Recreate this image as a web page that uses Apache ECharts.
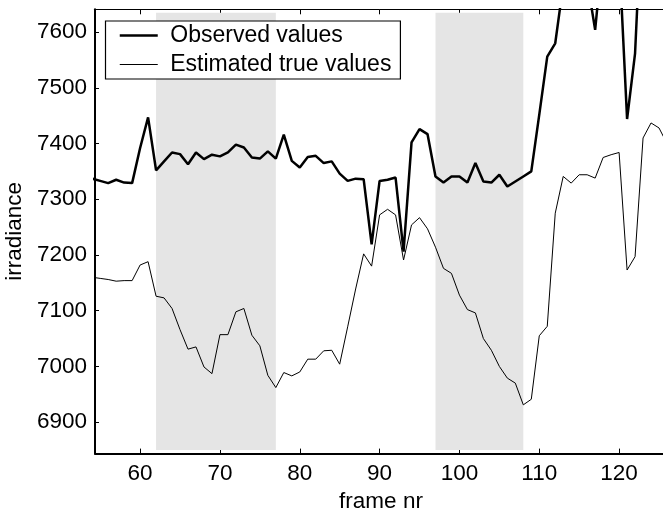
<!DOCTYPE html>
<html>
<head>
<meta charset="utf-8">
<style>
  html, body { margin: 0; padding: 0; background: #ffffff; }
  #chart { width: 663px; height: 510px; }
</style>
<script src="https://cdn.jsdelivr.net/npm/echarts@6/dist/echarts.min.js"></script>
</head>
<body>
<div id="chart"></div>
<script>
// Frame numbers (x axis)
const frames = [
  54, 55, 56, 57, 58, 59, 60, 61, 62, 63, 64, 65, 66, 67, 68, 69, 70, 71, 72, 73,
  74, 75, 76, 77, 78, 79, 80, 81, 82, 83, 84, 85, 86, 87, 88, 89, 90, 91, 92, 93,
  94, 95, 96, 97, 98, 99, 100, 101, 102, 103, 104, 105, 106, 107, 108, 109, 110,
  111, 112, 113, 114, 115, 116, 117, 118, 119, 120, 121, 122, 123, 124, 125, 126
];

// Measured irradiance per frame
const observedValues = [
  7337, 7333, 7329, 7335, 7330, 7329, 7392, 7447, 7352, 7368, 7384, 7381, 7363, 7384, 7372, 7380, 7377, 7384, 7398, 7393,
  7375, 7373, 7386, 7373, 7416, 7369, 7357, 7376, 7378, 7365, 7368, 7346, 7333, 7337, 7336, 7219, 7333, 7335, 7339, 7206,
  7402, 7426, 7417, 7341, 7330, 7341, 7341, 7330, 7365, 7332, 7330, 7344, 7323, 7332, 7341, 7350, 7452,
  7556, 7580, 7685, 7720, 7740, 7693, 7604, 7752, 7730, 7740, 7444, 7562, 7870, 7850, 7820, 7800
];

// Estimated true irradiance per frame
const estimatedValues = [
  7160, 7158, 7156, 7153, 7154, 7154, 7182, 7188, 7126, 7123, 7104, 7066, 7031, 7035, 6999, 6987, 7057, 7057, 7098, 7104,
  7056, 7037, 6984, 6962, 6989, 6983, 6990, 7013, 7013, 7028, 7029, 7004, 7071, 7139, 7202, 7180, 7272, 7282, 7272, 7191,
  7254, 7267, 7247, 7214, 7176, 7167, 7128, 7102, 7096, 7050, 7029, 7000, 6979, 6970, 6931, 6941, 7055,
  7072, 7275, 7341, 7329, 7344, 7344, 7338, 7375, 7380, 7384, 7173, 7197, 7410, 7437, 7428, 7400
];

// Shaded frame intervals
const shadeRanges = [[62, 77], [97, 108]];
const shadeBottom = 6850;
const shadeTop = 7635;

// Axis ticks
const xTicks = [60, 70, 80, 90, 100, 110, 120];
const yTicks = [6900, 7000, 7100, 7200, 7300, 7400, 7500, 7600];

const xMin = 54.35, xMax = 126;
const yMin = 6843.5, yMax = 7641;

const seriesNames = ['Observed values', 'Estimated true values'];
const lineWidths = [2.5, 1];

const FONT = 'Liberation Sans, Arial, Helvetica, sans-serif';

const observedData = frames.map((f, i) => [f, observedValues[i]]);
const estimatedData = frames.map((f, i) => [f, estimatedValues[i]]);

const chart = echarts.init(document.getElementById('chart'), null, { renderer: 'canvas' });

chart.setOption({
  animation: false,
  backgroundColor: '#ffffff',
  textStyle: { fontFamily: FONT },
  grid: {
    left: 95, right: -4, top: 9.3, bottom: 56.4,
    containLabel: false,
    outerBoundsMode: 'none'
  },
  legend: {
    orient: 'vertical',
    left: 105.5,
    top: 21,
    data: seriesNames.map((name, i) => ({
      name: name,
      lineStyle: { color: '#000000', width: lineWidths[i] }
    })),
    backgroundColor: '#ffffff',
    borderColor: '#000000',
    borderWidth: 1.2,
    borderRadius: 0,
    padding: [3, 9, 3, 13],
    itemWidth: 38,
    itemHeight: 22,
    itemGap: 6,
    itemStyle: { opacity: 0 },
    textStyle: { fontFamily: FONT, fontSize: 23, color: '#000000', padding: [0, 0, 0, 7.5] },
    selectedMode: false
  },
  xAxis: [
    {
      type: 'value',
      position: 'bottom',
      min: xMin,
      max: xMax,
      name: 'frame nr',
      nameLocation: 'middle',
      nameGap: 29,
      nameTextStyle: { fontFamily: FONT, fontSize: 22.5, color: '#000000' },
      axisLine: { show: true, onZero: false, lineStyle: { color: '#000000', width: 2 } },
      axisTick: { show: true, inside: true, length: 5, customValues: xTicks, lineStyle: { color: '#000000', width: 1 } },
      axisLabel: {
        show: true, customValues: xTicks, margin: 9,
        fontFamily: FONT, fontSize: 22.5, color: '#000000',
        formatter: v => String(v)
      },
      splitLine: { show: false }
    },
    {
      type: 'value',
      position: 'top',
      min: xMin,
      max: xMax,
      axisLine: { show: true, onZero: false, lineStyle: { color: '#000000', width: 1 } },
      axisTick: { show: true, inside: true, length: 5, customValues: xTicks, lineStyle: { color: '#000000', width: 1 } },
      axisLabel: { show: false },
      splitLine: { show: false }
    }
  ],
  yAxis: {
    type: 'value',
    min: yMin,
    max: yMax,
    name: 'irradiance',
    nameLocation: 'middle',
    nameGap: 57,
    nameRotate: 90,
    nameTextStyle: { fontFamily: FONT, fontSize: 22.5, color: '#000000' },
    axisLine: { show: true, onZero: false, lineStyle: { color: '#000000', width: 2 } },
    axisTick: { show: true, inside: true, length: 4, customValues: yTicks, lineStyle: { color: '#000000', width: 1 } },
    axisLabel: {
      show: true, customValues: yTicks, margin: 8,
      fontFamily: FONT, fontSize: 22.5, color: '#000000',
      formatter: v => String(v)
    },
    splitLine: { show: false }
  },
  series: [
    {
      name: 'shade',
      type: 'line',
      data: [],
      z: 1,
      silent: true,
      markArea: {
        silent: true,
        itemStyle: { color: '#e5e5e5', opacity: 1 },
        label: { show: false },
        data: shadeRanges.map(r => [
          { xAxis: r[0], yAxis: shadeBottom },
          { xAxis: r[1], yAxis: shadeTop }
        ])
      }
    },
    {
      name: seriesNames[1],
      type: 'line',
      data: estimatedData,
      symbol: 'none',
      z: 3,
      clip: true,
      lineStyle: { color: '#000000', width: lineWidths[1] },
      itemStyle: { color: '#000000' }
    },
    {
      name: seriesNames[0],
      type: 'line',
      data: observedData,
      symbol: 'none',
      z: 4,
      clip: true,
      lineStyle: { color: '#000000', width: lineWidths[0] },
      itemStyle: { color: '#000000' }
    }
  ]
});
</script>
</body>
</html>
